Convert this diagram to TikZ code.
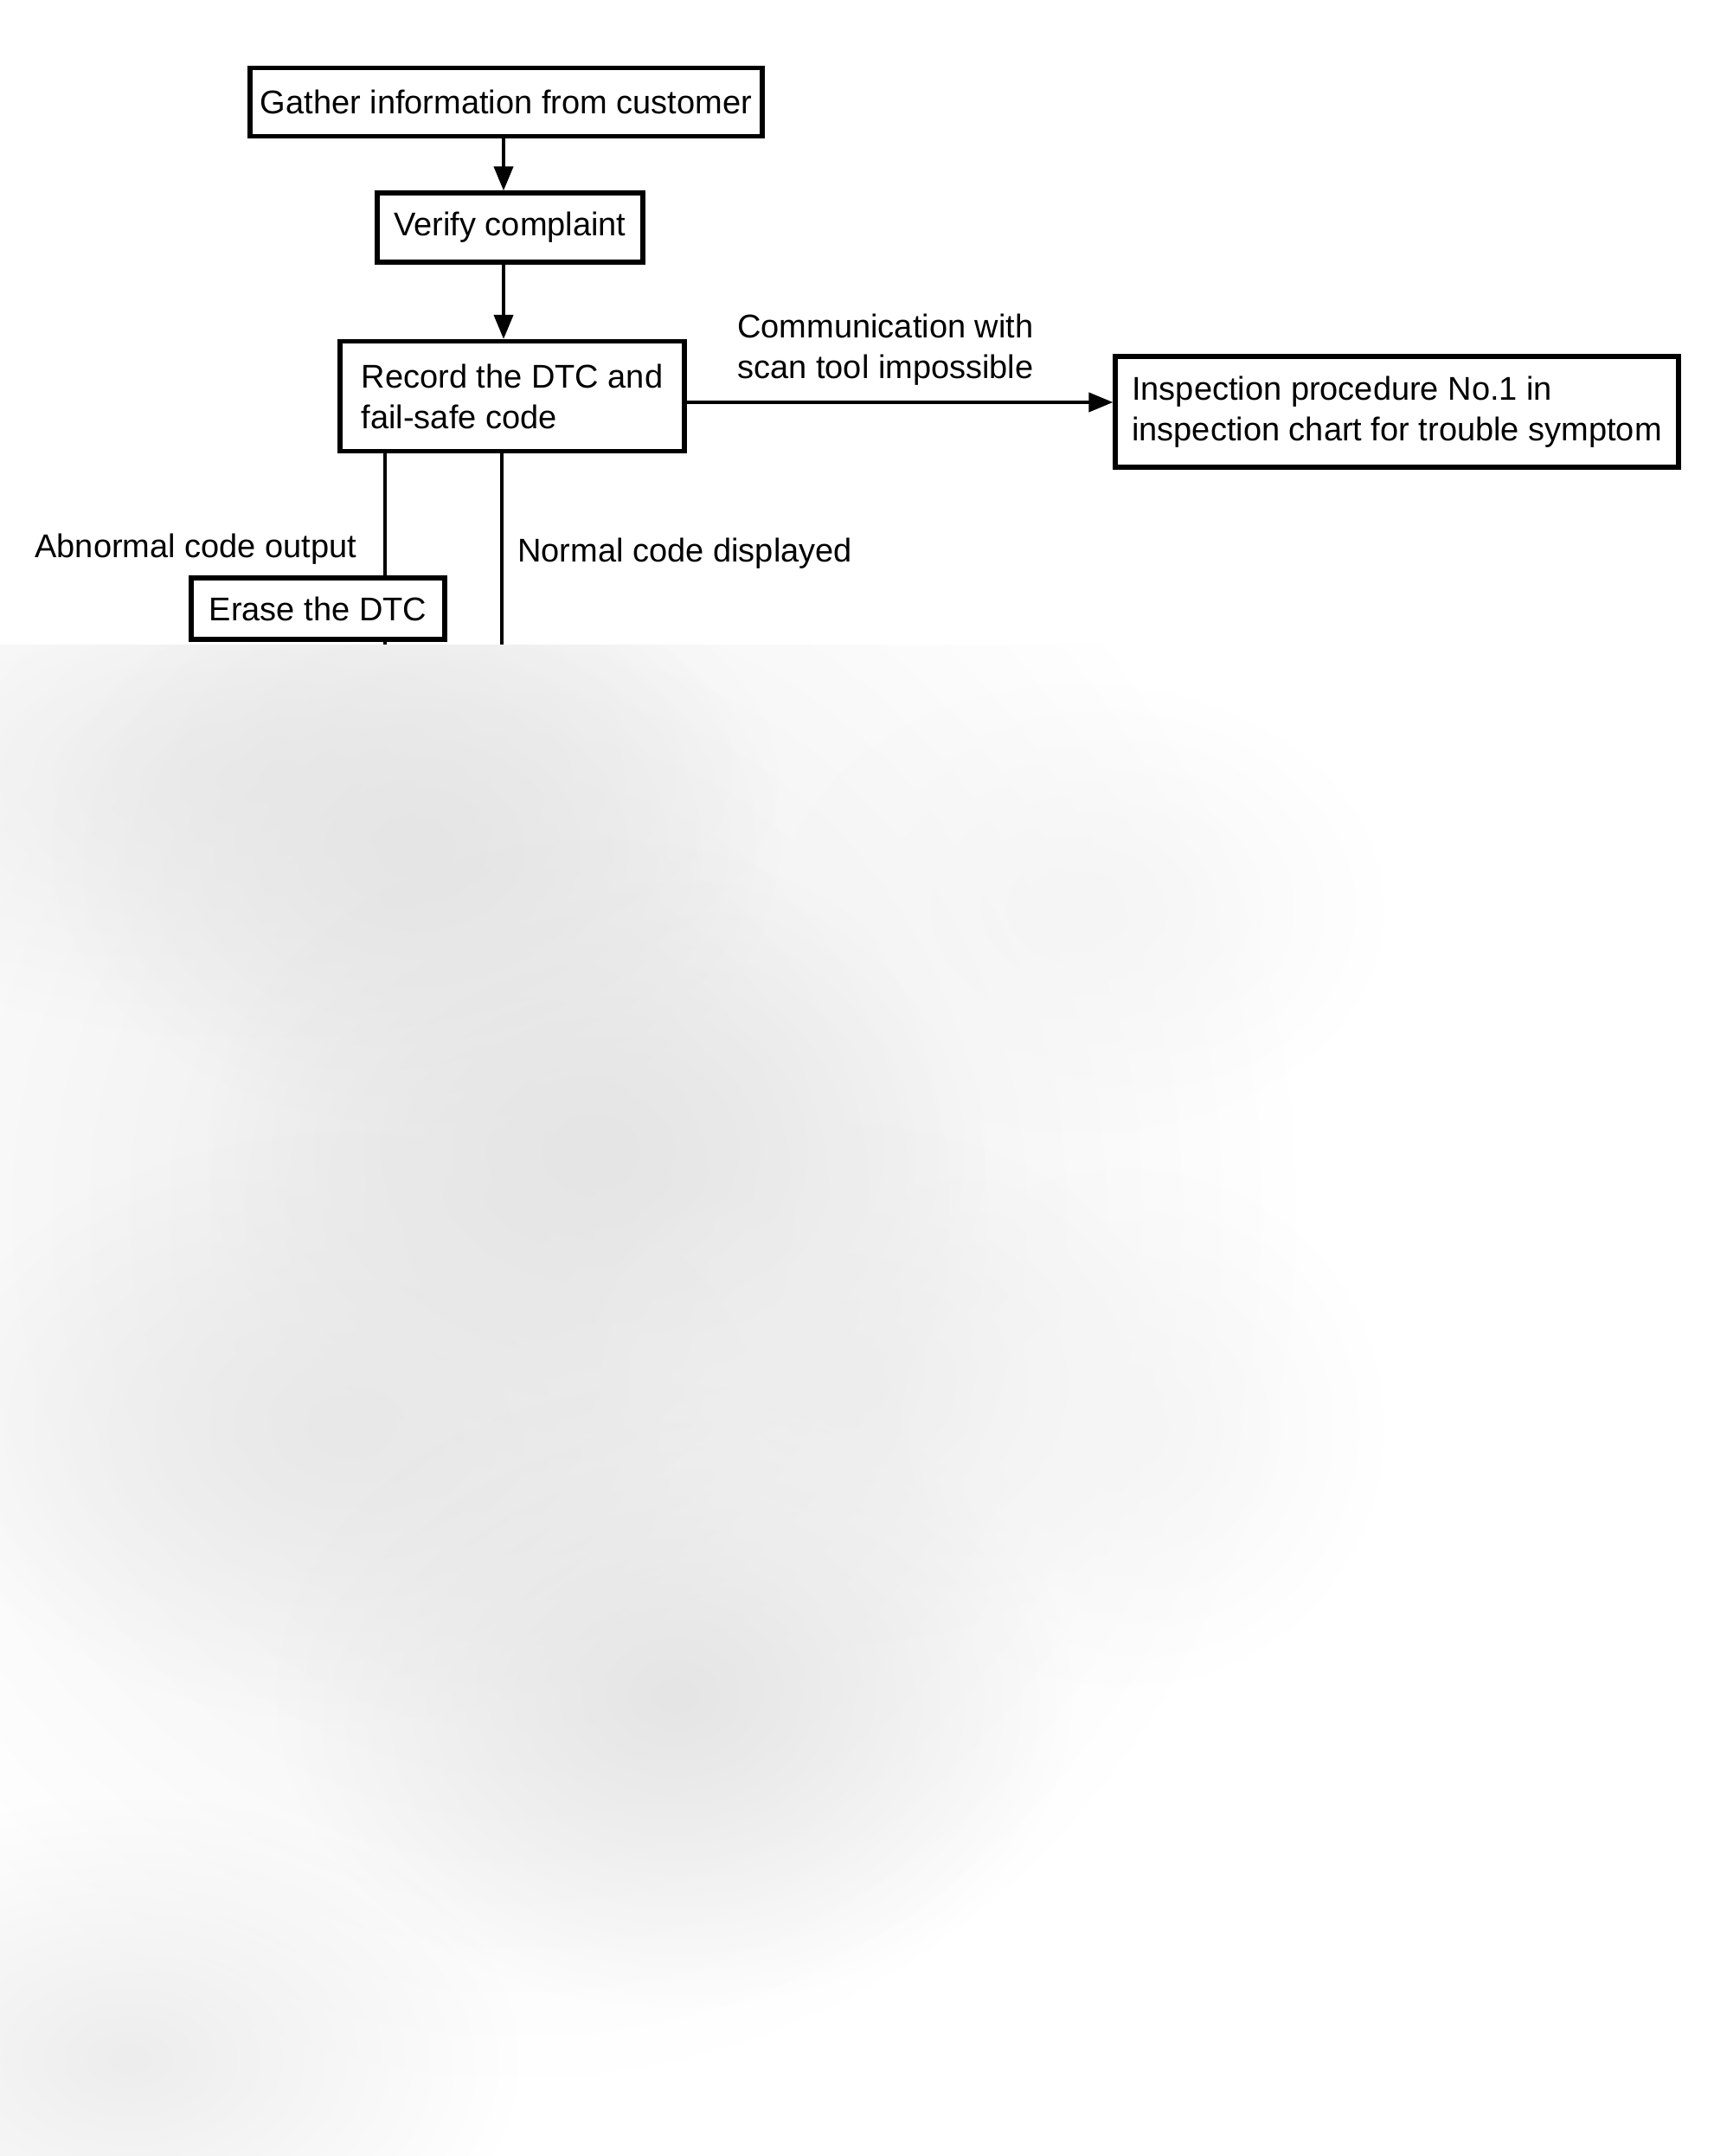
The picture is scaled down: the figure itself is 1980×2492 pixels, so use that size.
\documentclass[tikz,border=0pt]{standalone}
\usepackage{fontspec}
\setmainfont{Liberation Sans}
\usetikzlibrary{arrows.meta}
\usetikzlibrary{positioning}
\usetikzlibrary{fadings}
\tikzfading[name=blobfade, inner color=transparent!0, outer color=transparent!100]
\newcommand{\flowfont}{\fontsize{19}{23.5}\selectfont}
\tikzset{
  stepbox/.style={draw, line width=2.6pt, inner sep=0pt, align=left, font=\flowfont},
  flowline/.style={line width=2pt},
  flowarrow/.style={line width=2pt, -{Triangle[length=14pt,width=11pt]}},
  flowlabel/.style={inner sep=0pt, align=left, anchor=west, font=\flowfont},
  blob/.style={path fading=blobfade}
}
\begin{document}
\begin{tikzpicture}[x=0.5pt,y=0.5pt,yscale=-1,xscale=1]
\path[fill=white] (0,0) rectangle (1980,2492);
\useasboundingbox (0,0) rectangle (1980,2492);

%Blurred lower part
\begin{scope}
\clip (0,745) rectangle (1980,2492);
\fill[black!8, blob] (600,1400) ellipse [x radius=900, y radius=1000];
\fill[black!8, blob] (300,900) ellipse [x radius=600, y radius=300];
\fill[black!10, blob] (480,980) ellipse [x radius=420, y radius=320];
\fill[black!10, blob] (690,1330) ellipse [x radius=450, y radius=360];
\fill[black!9, blob] (400,1650) ellipse [x radius=480, y radius=340];
\fill[black!10, blob] (780,1960) ellipse [x radius=460, y radius=360];
\fill[black!7, blob] (980,1600) ellipse [x radius=380, y radius=300];
\fill[black!7, blob] (150,2380) ellipse [x radius=450, y radius=300];
\fill[black!4, blob] (1250,1050) ellipse [x radius=350, y radius=260];
\fill[black!4, blob] (1300,1650) ellipse [x radius=300, y radius=300];
\end{scope}

%Shape: Rectangle
\node[stepbox, minimum width=296pt, minimum height=39.5pt] (gather) at (585,118) {Gather information from customer};
%Shape: Rectangle
\node[stepbox, minimum width=153.5pt, minimum height=40pt] (verify) at (589.5,263) {Verify complaint};
%Shape: Rectangle
\node[stepbox, minimum width=199pt, minimum height=63.5pt] (record) at (592,458) {Record the DTC and\\fail-safe code};
%Shape: Rectangle
\node[stepbox, minimum width=325.5pt, minimum height=64pt] (inspect) at (1614.5,476) {Inspection procedure No.1 in\\inspection chart for trouble symptom};
%Shape: Rectangle
\node[stepbox, minimum width=146.5pt, minimum height=35.5pt] (erase) at (367.5,703.5) {Erase the DTC};

\coordinate (abn) at (445,0);
\coordinate (nrm) at (580,0);
\coordinate (cut) at (0,745);

%Arrows
\draw[flowarrow] (gather.south -| 582,0) -- (verify.north -| 582,0);
\draw[flowarrow] (verify.south -| 582,0) -- (record.north -| 582,0);
\draw[flowarrow] (record.east |- 0,465) -- (inspect.west |- 0,465);
%Straight Lines
\draw[flowline] (record.south -| abn) -- (erase.north -| abn);
\draw[flowline] (erase.south -| abn) -- (cut -| abn);
\draw[flowline] (record.south -| nrm) -- (cut -| nrm);

% Text Node
\node[flowlabel] (commlbl) at (852,404.5) {Communication with\\scan tool impossible};
% Text Node
\node[flowlabel] (abnlbl) at (40,635) {Abnormal code output};
% Text Node
\node[flowlabel] (nrmlbl) at (598,640) {Normal code displayed};
\end{tikzpicture}
\end{document}
